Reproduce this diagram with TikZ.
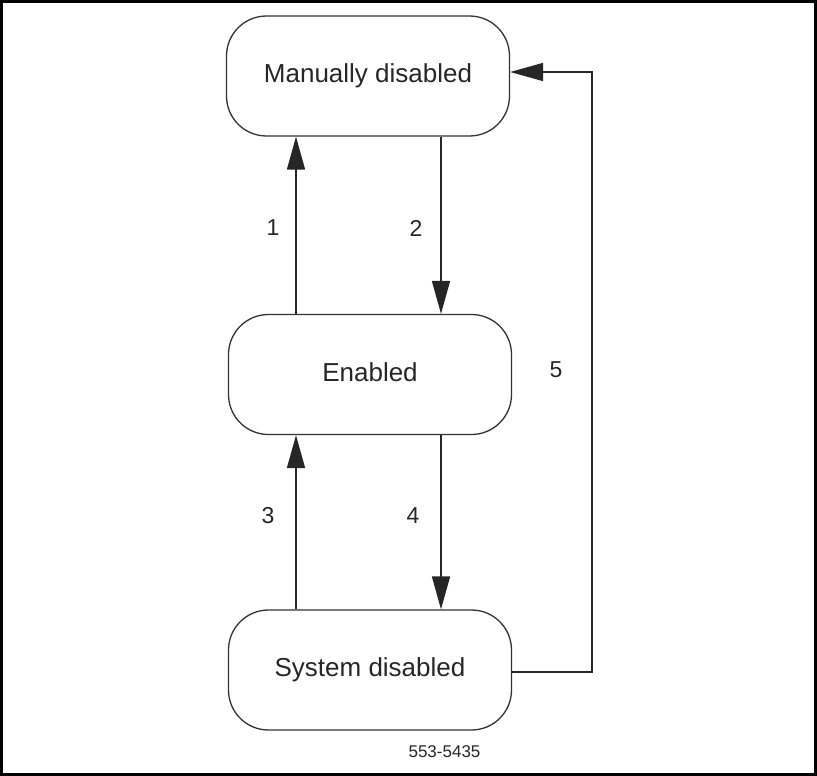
\documentclass[tikz,border=0pt]{standalone}
\usepackage{fontspec}
\setmainfont{Liberation Sans}
\usetikzlibrary{arrows.meta}
\begin{document}
\begin{tikzpicture}[x=1pt,y=-1pt,
  state/.style={draw=black!80, line width=1.3pt, rounded corners=40pt,
    minimum width=283pt, minimum height=120pt, inner sep=0pt,
    font=\fontsize{26}{30}\selectfont, text height=19pt, text depth=5.5pt, text=black!85},
  arr/.style={draw=black!85, line width=1.6pt, -{Triangle[length=33pt,width=18pt]}},
  lbl/.style={font=\fontsize{23}{26}\selectfont, text=black!85, inner sep=0pt}]
\useasboundingbox (0,0) rectangle (817,776);
\draw[line width=2.8pt] (1.5,1.2) rectangle (815.3,774.5);
\node[state] (md) at (368,76) {Manually disabled};
\node[state] (en) at (370,374.5) {Enabled};
\node[state] (sd) at (370,670) {System disabled};
\coordinate (xl) at (296,0);
\coordinate (xr) at (441,0);
\coordinate (c5a) at (592,672);
\coordinate (c5b) at (592,72);
\draw[arr] (xl |- en.north) -- (xl |- md.south);
\draw[arr] (xr |- md.south) -- (xr |- en.north);
\draw[arr] (xl |- sd.north) -- (xl |- en.south);
\draw[arr] (xr |- en.south) -- (xr |- sd.north);
\draw[arr] (sd.east |- c5a) -- (c5a) -- (c5b) -- (md.east |- c5b);
\node[lbl] (l1) at (273,228) {1};
\node[lbl] (l2) at (416,228) {2};
\node[lbl] (l3) at (268,516) {3};
\node[lbl] (l4) at (413,516) {4};
\node[lbl] (l5) at (556,370) {5};
\node[inner sep=0pt, font=\fontsize{17}{20}\selectfont, text=black!85] (code) at (444.5,751.5) {553-5435};
\end{tikzpicture}
\end{document}
